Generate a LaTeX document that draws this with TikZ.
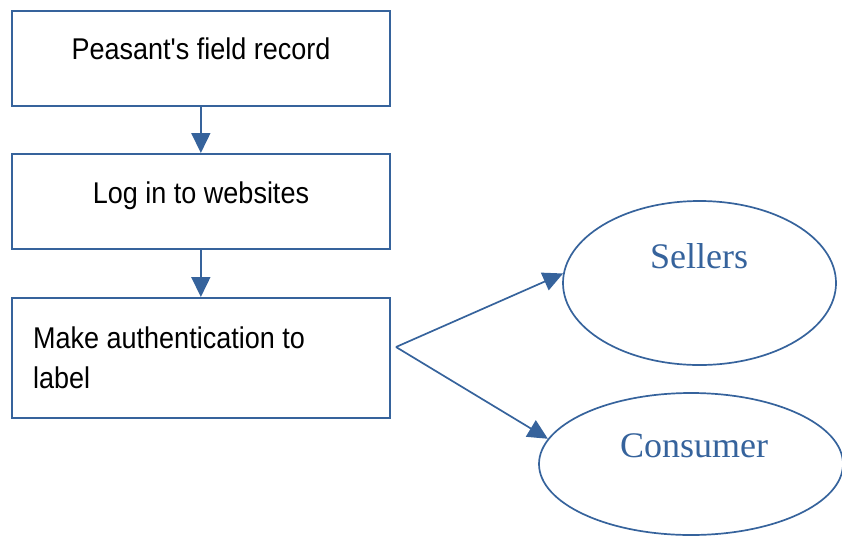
\documentclass[tikz,border=0pt]{standalone}
\usepackage{fontspec}
\setmainfont{Liberation Serif}
\newfontfamily\boxfont[FakeStretch=0.9]{Liberation Sans}
\usetikzlibrary{shapes.geometric,arrows.meta}
\definecolor{linkblue}{RGB}{54,99,156}
\tikzset{
  x=1pt, y=-1pt,
  stepbox/.style={draw=linkblue, line width=1.7pt, rectangle, minimum width=378pt, anchor=north west, inner sep=0pt},
  boxtext/.style={font=\boxfont\fontsize{30}{40}\selectfont, inner sep=0pt, text=black},
  party/.style={draw=linkblue, line width=1.7pt, ellipse, inner sep=0pt},
  partytext/.style={font=\fontsize{36}{40}\selectfont, text=linkblue, inner sep=0pt, anchor=base},
  flow/.style={draw=linkblue, line width=1.7pt, -{Triangle[length=20pt,width=19pt]}},
}
\begin{document}
\begin{tikzpicture}
\useasboundingbox (0,0) rectangle (842,536);

% process boxes
\node[stepbox, minimum height=95pt] (rec) at (11,10) {};
\node[stepbox, minimum height=95pt] (log) at (11,153) {};
\node[stepbox, minimum height=120pt] (auth) at (11,297) {};

\node[boxtext, anchor=base] (rec-t) at (201,59) {Peasant's field record};
\node[boxtext, anchor=base] (log-t) at (201,203) {Log in to websites};
\node[boxtext, anchor=base west] (auth-t1) at (33,348) {Make authentication to};
\node[boxtext, anchor=base west] (auth-t2) at (33,388) {label};

% parties
\node[party, minimum width=273pt, minimum height=164pt] (sell) at (699.5,283) {};
\node[party, minimum width=304pt, minimum height=142pt] (cons) at (691,464) {};
\node[partytext] (sell-t) at (699,268) {Sellers};
\node[partytext] (cons-t) at (694,457) {Consumer};

% connectors
\coordinate (fork) at (396,347);
\draw[flow] (rec.south) -- (log.north);
\draw[flow] (log.south) -- (auth.north);
\draw[flow] (fork) -- (sell.176);
\draw[flow] (fork) -- (cons.170);
\end{tikzpicture}
\end{document}
